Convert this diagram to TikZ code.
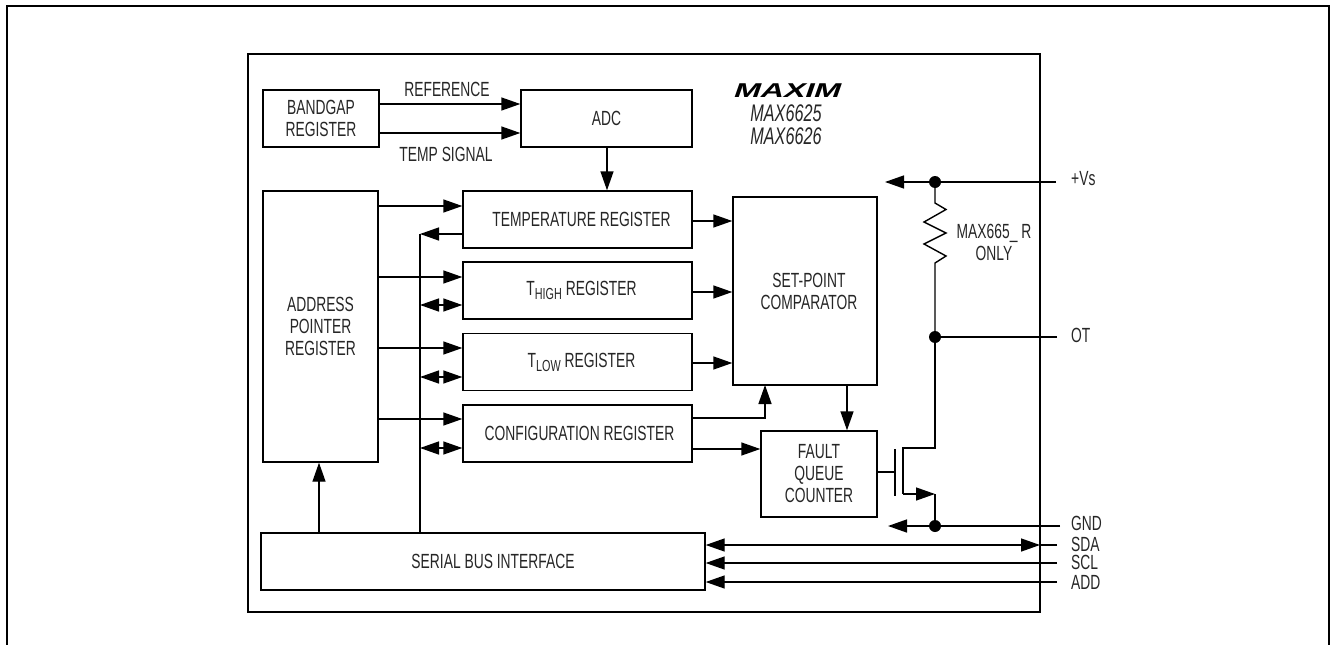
\documentclass[tikz,border=0pt]{standalone}
\usepackage{fontspec}
\usetikzlibrary{arrows.meta}
\setmainfont[FakeStretch=0.675]{Liberation Sans}
\newfontfamily\logofont[FakeStretch=1.6,FakeSlant=0.35]{Liberation Sans Bold}
\newcommand{\regsub}[1]{\raisebox{-4pt}{\fontsize{16}{16}\selectfont #1}}
\tikzset{
	wire/.style={line width=1.4pt,black},
	sig/.style={wire,-{Triangle[length=19pt,width=13pt]}},
	sigboth/.style={wire,{Triangle[length=19pt,width=13pt]}-{Triangle[length=19pt,width=13pt]}},
	regbox/.style={draw,wire,inner sep=0pt,align=center,text=black!85,font=\fontsize{20.5}{22}\selectfont},
	lbl/.style={inner sep=0pt,align=center,text=black!85,font=\fontsize{20.5}{22}\selectfont},
	pin/.style={lbl,anchor=west},
	junction/.style={circle,fill=black,inner sep=0pt,minimum size=12pt}
}
\begin{document}
\begin{tikzpicture}[x=1pt,y=-1pt]
	\useasboundingbox (0,0) rectangle (1330,645);
	% frame, open at the bottom
	\draw[line width=2.5pt] (6,6) -- (1330,6);
	\draw[line width=1.8pt] (7,6) -- (7,645);
	\draw[line width=1.5pt] (1329,6) -- (1329,645);
	\node (chip) [draw,wire,minimum width=792pt,minimum height=558pt,inner sep=0pt] at (644,333) {};
	% blocks
	\node (bandgap) [regbox,minimum width=116pt,minimum height=57pt] at (321,118.5) {BANDGAP\\REGISTER};
	\node (adc) [regbox,minimum width=171pt,minimum height=57pt] at (606.5,118.5) {ADC};
	\node (addr) [regbox,minimum width=115pt,minimum height=271pt] at (320.5,326.5) {ADDRESS\\POINTER\\REGISTER};
	\node (temp) [regbox,minimum width=229pt,minimum height=57pt] at (577.5,219.5) {\hspace*{8pt}TEMPERATURE REGISTER};
	\node (thigh) [regbox,minimum width=229pt,minimum height=57pt] at (577.5,290.5) {\hspace*{8pt}T\regsub{HIGH} REGISTER};
	\node (tlow) [regbox,minimum width=229pt,minimum height=57pt] at (577.5,362) {\hspace*{8pt}T\regsub{LOW} REGISTER};
	\node (config) [regbox,minimum width=229pt,minimum height=57pt] at (577.5,433.5) {\hspace*{4pt}CONFIGURATION REGISTER};
	\node (setpoint) [regbox,minimum width=144pt,minimum height=188pt] at (805,291) {\hspace*{8pt}SET-POINT\\\hspace*{8pt}COMPARATOR};
	\node (fault) [regbox,minimum width=116pt,minimum height=86pt] at (819,474) {FAULT\\QUEUE\\COUNTER};
	\node (serial) [regbox,minimum width=444pt,minimum height=57pt] at (483,561.5) {\hspace*{20pt}SERIAL BUS INTERFACE};
	% labels
	\node (reflbl) [lbl] at (447,89) {REFERENCE};
	\node (templbl) [lbl] at (446,154) {TEMP SIGNAL};
	\node (logo) [inner sep=0pt,font=\logofont\fontsize{20}{20}\selectfont] at (786,91) {MAXIM};
	\node (parts) [lbl,font=\itshape\fontsize{24}{23}\selectfont] at (786,124.5) {MAX6625\\MAX6626};
	\node (rlbl) [lbl] at (994,242) {MAX665\_ R\\ONLY};
	% pins
	\coordinate (pvs) at (1056,182);
	\coordinate (pot) at (1057,337);
	\coordinate (pgnd) at (1060,526);
	\coordinate (psda) at (1057,545);
	\coordinate (pscl) at (1057,563);
	\coordinate (padd) at (1057,582);
	\node (vslbl) [pin] at (1071,179) {+Vs};
	\node (otlbl) [pin] at (1071,335) {OT};
	\node (gndlbl) [pin] at (1071,523) {GND};
	\node (sdalbl) [pin] at (1071,544) {SDA};
	\node (scllbl) [pin] at (1071,562) {SCL};
	\node (addlbl) [pin] at (1071,582) {ADD};
	% attachment points
	\coordinate (refin) at ([yshift=14.5pt]adc.west);
	\coordinate (sigin) at ([yshift=-14.5pt]adc.west);
	\coordinate (tempin) at ([yshift=13.5pt]temp.west);
	\coordinate (tempbus) at ([yshift=-14.5pt]temp.west);
	\coordinate (thighin) at ([yshift=13.5pt]thigh.west);
	\coordinate (thighbus) at ([yshift=-14.5pt]thigh.west);
	\coordinate (tlowin) at ([yshift=14pt]tlow.west);
	\coordinate (tlowbus) at ([yshift=-15pt]tlow.west);
	\coordinate (configin) at ([yshift=14.5pt]config.west);
	\coordinate (configbus) at ([yshift=-14.5pt]config.west);
	\coordinate (configup) at ([yshift=15.5pt]config.east);
	\coordinate (configout) at ([yshift=-15.5pt]config.east);
	\coordinate (busfoot) at (420,533);
	\coordinate (bustop) at (busfoot |- tempbus);
	\coordinate (addrfoot) at (319,533);
	\coordinate (adcout) at (607,147);
	\coordinate (faultin) at (847,385);
	\coordinate (cmpin) at (765,385);
	% connectors
	\draw[sig] (bandgap.east |- refin) -- (refin);
	\draw[sig] (bandgap.east |- sigin) -- (sigin);
	\draw[sig] (adcout) -- (adcout |- temp.north);
	\draw[sig] (addr.east |- tempin) -- (tempin);
	\draw[sig] (addr.east |- thighin) -- (thighin);
	\draw[sig] (addr.east |- tlowin) -- (tlowin);
	\draw[sig] (addr.east |- configin) -- (configin);
	\draw[sig] (addrfoot) -- (addrfoot |- addr.south);
	\draw[wire] (busfoot) -- (bustop);
	\draw[sig] (tempbus) -- (bustop);
	\draw[sigboth] (bustop |- thighbus) -- (thighbus);
	\draw[sigboth] (bustop |- tlowbus) -- (tlowbus);
	\draw[sigboth] (bustop |- configbus) -- (configbus);
	\draw[sig] ([yshift=-1.5pt]temp.east) -- ([yshift=-1.5pt]temp.east -| setpoint.west);
	\draw[sig] ([yshift=-1.5pt]thigh.east) -- ([yshift=-1.5pt]thigh.east -| setpoint.west);
	\draw[sig] ([yshift=-1pt]tlow.east) -- ([yshift=-1pt]tlow.east -| setpoint.west);
	\draw[sig] (configup) -| (cmpin);
	\draw[sig] (configout) -- (configout -| fault.west);
	\draw[sig] (faultin) -- (faultin |- fault.north);
	% supply side
	\node (vsdot) [junction] at (935,182) {};
	\node (otdot) [junction] at (935,337) {};
	\node (gnddot) [junction] at (935,526) {};
	\coordinate (vstip) at (885,182);
	\coordinate (gndtip) at (888,526);
	\coordinate (drain) at (903,448);
	\coordinate (source) at (903,494);
	\coordinate (sourcetip) at (935,494);
	\coordinate (gatein) at (895,472);
	\draw[sig] (pvs) -- (vstip);
	\draw[sig] (pgnd) -- (gndtip);
	\draw[wire] (pot) -- (otdot);
	\draw[wire,line join=miter] (vsdot) -- (935,203) -- (946,209.5) -- (924,222) -- (946,233) -- (924,244) -- (946,256) -- (935,263) -- (otdot);
	\draw[wire] (otdot) |- (drain) -- (source);
	\draw[sig] (source) -- (sourcetip);
	\draw[wire] (sourcetip) -- (gnddot);
	\draw[wire] (fault.east |- gatein) -- (gatein);
	\draw[wire] (895,449) -- (895,496);
	% bus pins
	\draw[wire] (psda) -- (1040,545);
	\draw[sigboth] (serial.east |- psda) -- (1040,545);
	\draw[sig] (pscl) -- (pscl -| serial.east);
	\draw[sig] (padd) -- (padd -| serial.east);
\end{tikzpicture}
\end{document}
